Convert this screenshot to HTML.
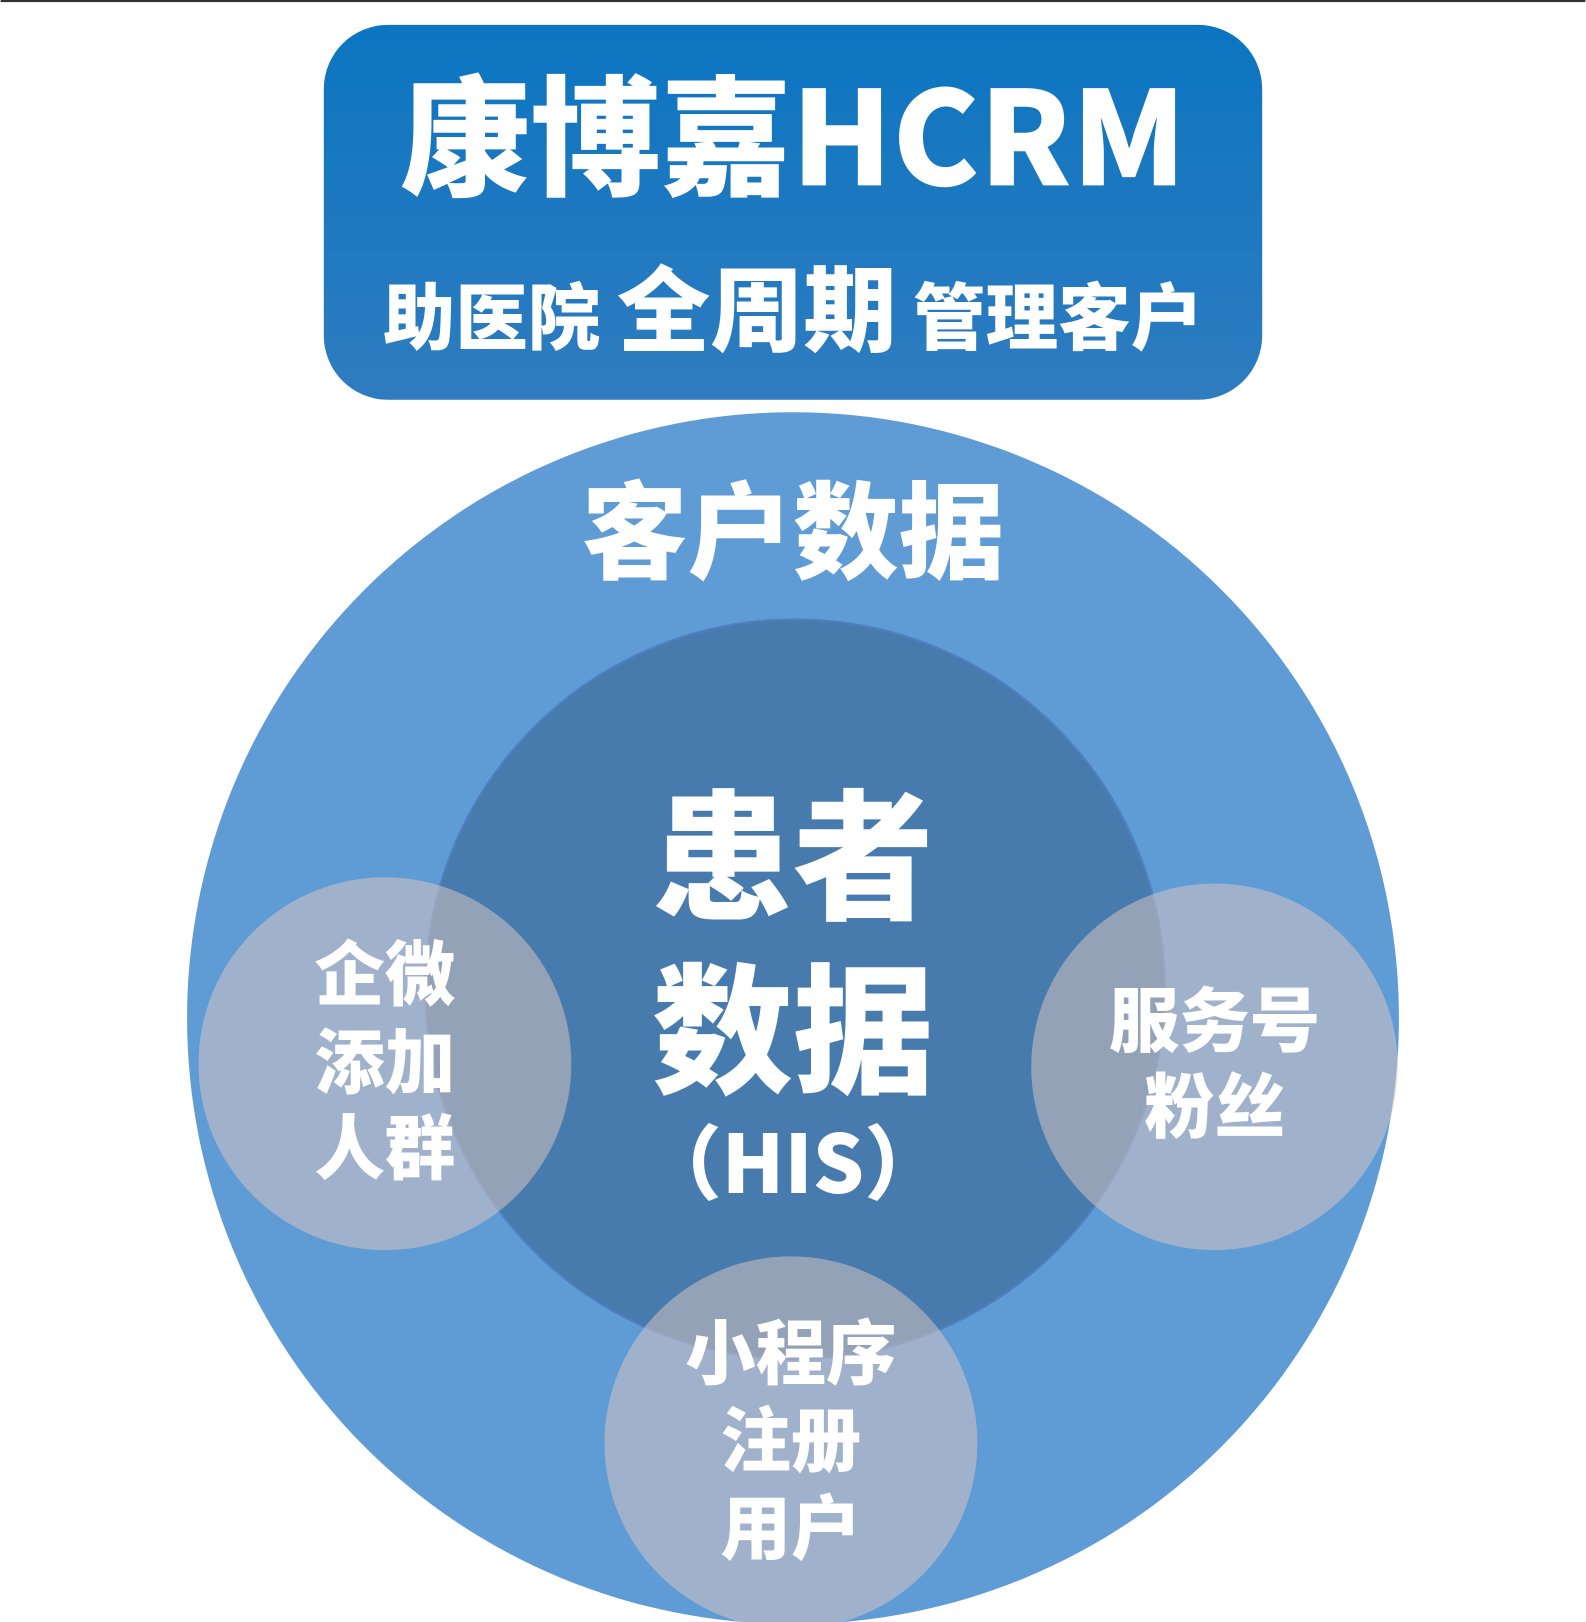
<!DOCTYPE html>
<html><head><meta charset="utf-8"><style>
html,body{margin:0;padding:0;background:#fff;}
svg{display:block;}
text{font-family:"Noto Sans CJK SC",sans-serif;font-weight:900;fill:#fff;text-anchor:middle;}
</style></head><body>
<svg width="1586" height="1622" viewBox="0 0 1530 1566" xmlns="http://www.w3.org/2000/svg">
<defs>
<linearGradient id="g" x1="0" y1="0" x2="0" y2="1">
<stop offset="0" stop-color="#0b75c1"/><stop offset="1" stop-color="#2f7cbf"/>
</linearGradient>
</defs>
<rect x="0" y="0" width="1530" height="2" fill="#333"/>
<rect x="312" y="24" width="906" height="362" rx="62" fill="url(#g)"/>
<text x="765" y="179" font-size="126">康博嘉HCRM</text>
<text x="765" y="332" font-size="70">助医院 <tspan font-size="90">全周期</tspan> 管理客户</text>
<circle cx="765" cy="983" r="585" fill="#5f9bd4"/>
<circle cx="767" cy="955" r="357" fill="#477bad" stroke="#4f7fc0" stroke-width="2"/>
<text x="765" y="551" font-size="102">客户数据</text>
<text x="765" y="877" font-size="136">患者</text>
<text x="765" y="1045" font-size="136">数据</text>
<text x="765" y="1152" font-size="78">（HIS）</text>
<g fill="rgb(225,201,194)" fill-opacity="0.5">
<circle cx="371" cy="1027" r="180"/>
<circle cx="1172" cy="1030" r="177"/>
<circle cx="763" cy="1393" r="180"/>
</g>
<g font-size="68">
<text x="371" y="965">企微</text>
<text x="371" y="1050">添加</text>
<text x="371" y="1133">人群</text>
<text x="1172" y="1010">服务号</text>
<text x="1172" y="1093">粉丝</text>
<text x="763" y="1331">小程序</text>
<text x="763" y="1415">注册</text>
<text x="763" y="1500">用户</text>
</g>
</svg>
</body></html>
